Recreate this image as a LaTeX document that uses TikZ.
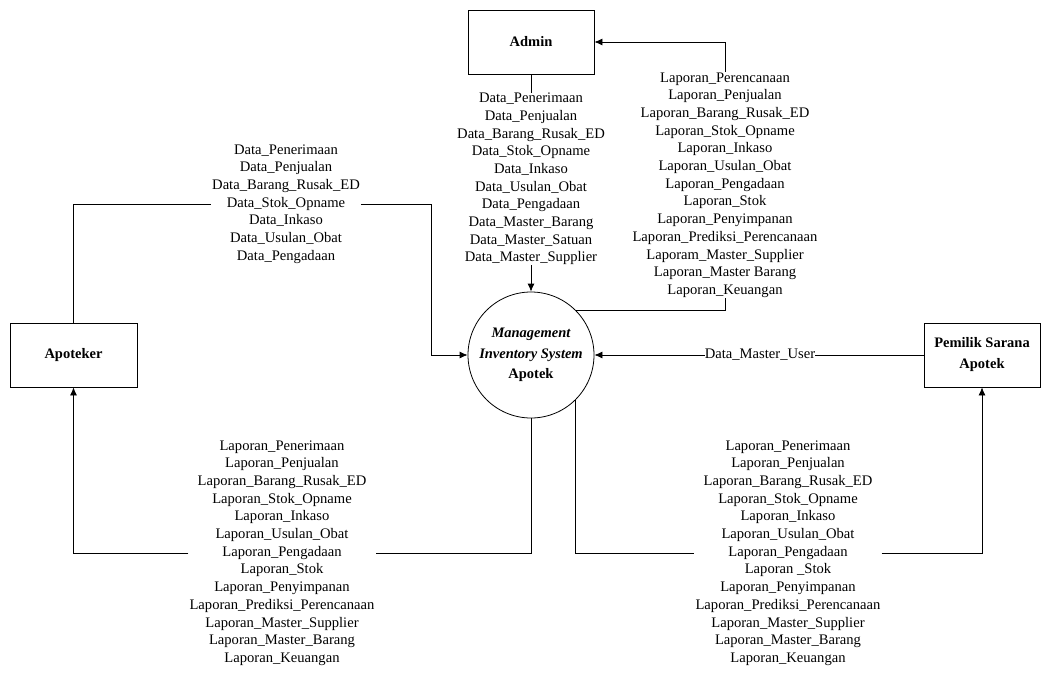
\documentclass[tikz,border=0pt]{standalone}
\usepackage{fontspec}
\setmainfont{Liberation Serif}
\usetikzlibrary{arrows.meta}
\begin{document}
\begin{tikzpicture}[x=1pt,y=-1pt,
  lbl/.style={align=center,inner xsep=1pt,inner ysep=0pt,font=\fontsize{14.6}{17.7}\selectfont},
  ent/.style={draw,line width=0.8pt,minimum width=126pt,minimum height=64pt,align=center,font=\fontsize{14.5}{21}\selectfont\bfseries},
  proc/.style={draw,circle,line width=0.8pt,minimum size=126pt,inner sep=0pt,align=center,font=\fontsize{14.5}{20.5}\selectfont\bfseries},
  ln/.style={line width=0.8pt},
  arr/.style={line width=0.8pt,-{Latex[length=8pt,width=7pt]}}]
\useasboundingbox (0,0) rectangle (1049,675);
\node[ent] (admin) at (531,42) {Admin};
\node[ent,minimum width=127pt] (apo) at (73.5,355) {Apoteker};
\node[ent,minimum width=116pt] (pem) at (982,355) {Pemilik Sarana\\Apotek};
\node[proc] (circ) at (531,355) {{\itshape Management}\\{\itshape Inventory System}\\Apotek};

\node[lbl] (admL) at (531,179) {Data\_Penerimaan\\Data\_Penjualan\\Data\_Barang\_Rusak\_ED\\Data\_Stok\_Opname\\Data\_Inkaso\\Data\_Usulan\_Obat\\Data\_Pengadaan\\Data\_Master\_Barang\\Data\_Master\_Satuan\\Data\_Master\_Supplier};
\node[lbl] (admR) at (725,185) {Laporan\_Perencanaan\\Laporan\_Penjualan\\Laporan\_Barang\_Rusak\_ED\\Laporan\_Stok\_Opname\\Laporan\_Inkaso\\Laporan\_Usulan\_Obat\\Laporan\_Pengadaan\\Laporan\_Stok\\Laporan\_Penyimpanan\\Laporan\_Prediksi\_Perencanaan\\Laporam\_Master\_Supplier\\Laporan\_Master Barang\\Laporan\_Keuangan};
\node[lbl] (apoL) at (286,204) {Data\_Penerimaan\\Data\_Penjualan\\Data\_Barang\_Rusak\_ED\\Data\_Stok\_Opname\\Data\_Inkaso\\Data\_Usulan\_Obat\\Data\_Pengadaan};
\node[lbl] (botL) at (282,553) {Laporan\_Penerimaan\\Laporan\_Penjualan\\Laporan\_Barang\_Rusak\_ED\\Laporan\_Stok\_Opname\\Laporan\_Inkaso\\Laporan\_Usulan\_Obat\\Laporan\_Pengadaan\\Laporan\_Stok\\Laporan\_Penyimpanan\\Laporan\_Prediksi\_Perencanaan\\Laporan\_Master\_Supplier\\Laporan\_Master\_Barang\\Laporan\_Keuangan};
\node[lbl] (botR) at (788,553) {Laporan\_Penerimaan\\Laporan\_Penjualan\\Laporan\_Barang\_Rusak\_ED\\Laporan\_Stok\_Opname\\Laporan\_Inkaso\\Laporan\_Usulan\_Obat\\Laporan\_Pengadaan\\Laporan \_Stok\\Laporan\_Penyimpanan\\Laporan\_Prediksi\_Perencanaan\\Laporan\_Master\_Supplier\\Laporan\_Master\_Barang\\Laporan\_Keuangan};
\node[lbl,inner xsep=0pt] (dmu) at (760,355) {Data\_Master\_User};

\coordinate (c1) at (431,355);
\coordinate (c2) at (725,42);

% Admin -> process
\draw[ln] (admin.south) -- (admL.north);
\draw[arr] (admL.south) -- (circ.north);
% process -> Admin
\draw[ln] (circ.45) -| (admR.south);
\draw[arr] (admR.north) -- (c2) -- (admin.east);
% Apoteker -> process
\draw[ln] (apo.north) |- (apoL.west);
\draw[arr] (apoL.east) -| (c1) -- (circ.west);
% process -> Apoteker
\draw[ln] (circ.south) |- (botL.east);
\draw[arr] (botL.west) -| (apo.south);
% process -> Pemilik
\draw[ln] (circ.-45) |- (botR.west);
\draw[arr] (botR.east) -| (pem.south);
% Pemilik -> process
\draw[ln] (pem.west) -- (dmu.east);
\draw[arr] (dmu.west) -- (circ.east);
\end{tikzpicture}
\end{document}
